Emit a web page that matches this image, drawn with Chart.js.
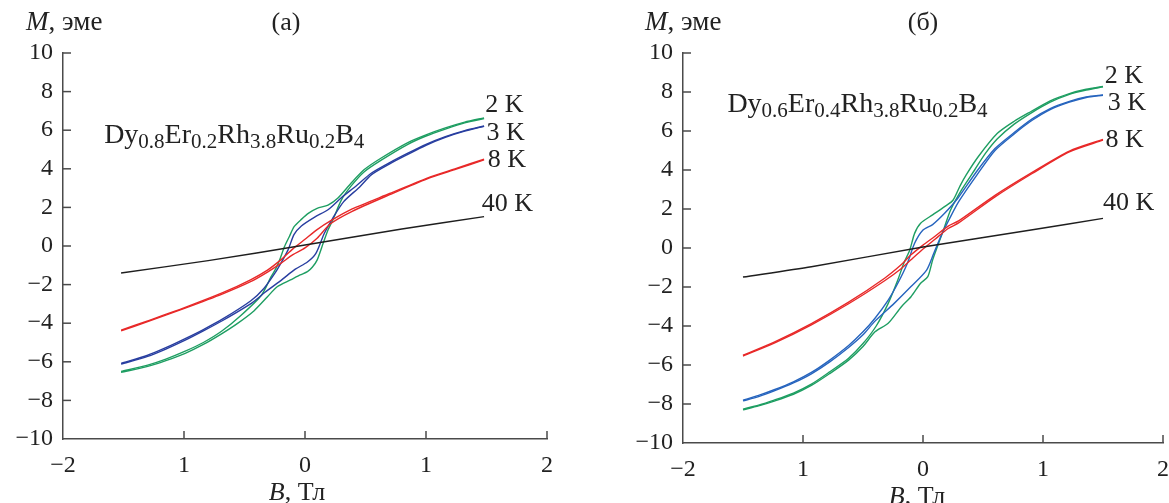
<!DOCTYPE html>
<html lang="ru">

<head>
    <meta charset="UTF-8">
    <title>Петли намагничивания M(B)</title>
    <script src="https://cdn.jsdelivr.net/npm/chart.js"></script>
    <style>
        html, body { margin: 0; padding: 0; overflow: hidden; background: #fff; }
        body { width: 1169px; height: 503px; position: relative; }
        canvas { position: absolute; top: 0; }
        #chartA { left: 0; }
        #chartB { left: 590px; }
    </style>
</head>

<body>
    <canvas id="chartA" width="590" height="503"></canvas>
    <canvas id="chartB" width="610" height="503"></canvas>
    <script>
        // подписи осей
        const xTickText = ['−2', '1', '0', '1', '2'];
        const yMin = -10, yMax = 10, yStep = 2;

        // ===== (а) Dy0.8Er0.2Rh3.8Ru0.2B4, точки [B, M] =====
        const a2K_down = [[1.48, 6.64], [1.32, 6.42], [1.16, 6.12], [1.00, 5.76], [0.85, 5.36], [0.63, 4.56], [0.49, 3.96], [0.38, 3.25], [0.27, 2.47], [0.19, 2.12], [0.10, 1.95], [0.03, 1.70], [-0.03, 1.38], [-0.09, 1.00], [-0.13, 0.48], [-0.17, -0.04], [-0.21, -0.73], [-0.24, -1.16], [-0.28, -1.59], [-0.36, -2.55], [-0.53, -3.60], [-0.69, -4.42], [-0.84, -5.00], [-0.99, -5.45], [-1.15, -5.86], [-1.30, -6.17], [-1.52, -6.50]];
        const a2K_up = [[-1.52, -6.55], [-1.30, -6.24], [-1.15, -5.94], [-0.99, -5.56], [-0.84, -5.10], [-0.69, -4.55], [-0.56, -4.02], [-0.42, -3.35], [-0.31, -2.63], [-0.23, -2.11], [-0.12, -1.76], [-0.04, -1.50], [0.02, -1.33], [0.06, -1.10], [0.10, -0.73], [0.15, 0.14], [0.19, 0.83], [0.23, 1.35], [0.30, 2.38], [0.38, 3.10], [0.49, 3.85], [0.63, 4.45], [0.85, 5.27], [1.00, 5.70], [1.16, 6.06], [1.32, 6.38], [1.48, 6.60]];
        const a3K_down = [[1.48, 6.22], [1.32, 5.98], [1.16, 5.67], [1.00, 5.27], [0.85, 4.81], [0.70, 4.32], [0.55, 3.78], [0.42, 3.10], [0.30, 2.50], [0.19, 1.88], [0.08, 1.50], [-0.03, 1.04], [-0.09, 0.60], [-0.14, -0.20], [-0.20, -0.90], [-0.25, -1.42], [-0.34, -2.20], [-0.45, -2.85], [-0.68, -3.78], [-0.84, -4.33], [-0.99, -4.80], [-1.15, -5.27], [-1.30, -5.66], [-1.52, -6.08]];
        const a3K_up = [[-1.52, -6.12], [-1.30, -5.72], [-1.15, -5.34], [-0.99, -4.88], [-0.84, -4.40], [-0.68, -3.86], [-0.45, -3.00], [-0.33, -2.40], [-0.19, -1.74], [-0.08, -1.20], [0.02, -0.83], [0.09, -0.38], [0.16, 0.66], [0.23, 1.45], [0.32, 2.30], [0.45, 3.05], [0.55, 3.70], [0.70, 4.26], [0.85, 4.75], [1.00, 5.22], [1.16, 5.63], [1.32, 5.95], [1.48, 6.20]];
        const a8K_down = [[1.48, 4.50], [1.25, 4.02], [1.01, 3.52], [0.70, 2.72], [0.39, 1.92], [0.21, 1.30], [0.10, 0.85], [0.00, 0.35], [-0.10, -0.15], [-0.20, -0.72], [-0.31, -1.25], [-0.45, -1.75], [-0.68, -2.42], [-0.99, -3.18], [-1.30, -3.88], [-1.52, -4.36]];
        const a8K_up = [[-1.52, -4.40], [-1.30, -3.92], [-0.99, -3.22], [-0.68, -2.48], [-0.45, -1.85], [-0.31, -1.35], [-0.20, -0.90], [-0.10, -0.45], [0.00, -0.10], [0.10, 0.40], [0.21, 1.15], [0.39, 1.80], [0.70, 2.66], [1.01, 3.48], [1.25, 3.98], [1.48, 4.46]];
        const a40K = [[-1.52, -1.40], [-0.80, -0.76], [0.00, 0.05], [0.80, 0.88], [1.48, 1.52]];

        // ===== (б) Dy0.6Er0.4Rh3.8Ru0.2B4 =====
        const b2K_down = [[1.50, 8.28], [1.36, 8.14], [1.22, 7.92], [1.06, 7.55], [0.90, 7.00], [0.76, 6.50], [0.62, 5.88], [0.46, 4.68], [0.36, 3.75], [0.31, 3.20], [0.25, 2.45], [0.18, 2.12], [0.08, 1.70], [-0.02, 1.27], [-0.07, 0.75], [-0.11, -0.10], [-0.16, -0.78], [-0.21, -1.64], [-0.29, -2.84], [-0.39, -4.00], [-0.50, -4.90], [-0.62, -5.65], [-0.78, -6.36], [-0.93, -6.98], [-1.08, -7.44], [-1.24, -7.80], [-1.37, -8.06], [-1.50, -8.26]];
        const b2K_up = [[-1.50, -8.30], [-1.37, -8.10], [-1.24, -7.85], [-1.08, -7.50], [-0.93, -7.05], [-0.78, -6.45], [-0.62, -5.75], [-0.50, -5.05], [-0.40, -4.30], [-0.29, -3.86], [-0.18, -3.01], [-0.10, -2.50], [-0.02, -1.81], [0.04, -1.47], [0.08, -0.62], [0.12, 0.07], [0.18, 1.09], [0.23, 1.95], [0.32, 2.97], [0.43, 4.00], [0.52, 4.85], [0.62, 5.60], [0.76, 6.35], [0.90, 6.92], [1.06, 7.48], [1.22, 7.88], [1.36, 8.10], [1.50, 8.26]];
        const b3K_down = [[1.50, 7.85], [1.36, 7.75], [1.22, 7.52], [1.06, 7.15], [0.91, 6.62], [0.76, 5.92], [0.60, 5.10], [0.45, 3.95], [0.29, 2.55], [0.18, 1.78], [0.08, 1.20], [0.00, 0.92], [-0.07, 0.24], [-0.13, -0.78], [-0.21, -1.81], [-0.29, -2.67], [-0.40, -3.60], [-0.50, -4.30], [-0.62, -5.00], [-0.78, -5.76], [-0.93, -6.38], [-1.08, -6.86], [-1.24, -7.27], [-1.37, -7.56], [-1.50, -7.80]];
        const b3K_up = [[-1.50, -7.84], [-1.37, -7.62], [-1.24, -7.33], [-1.08, -6.92], [-0.93, -6.45], [-0.78, -5.85], [-0.62, -5.10], [-0.50, -4.45], [-0.40, -3.75], [-0.24, -2.84], [-0.10, -1.98], [0.03, -1.13], [0.09, -0.27], [0.16, 0.75], [0.23, 1.61], [0.30, 2.40], [0.45, 3.75], [0.60, 5.00], [0.76, 5.85], [0.91, 6.55], [1.06, 7.10], [1.22, 7.48], [1.36, 7.72], [1.50, 7.83]];
        const b8K_down = [[1.50, 5.57], [1.22, 4.97], [0.91, 3.88], [0.60, 2.70], [0.30, 1.40], [0.21, 1.12], [0.10, 0.60], [0.00, 0.15], [-0.10, -0.35], [-0.18, -0.85], [-0.32, -1.55], [-0.62, -2.78], [-0.93, -3.88], [-1.24, -4.83], [-1.50, -5.50]];
        const b8K_up = [[-1.50, -5.54], [-1.24, -4.88], [-0.93, -3.94], [-0.62, -2.86], [-0.32, -1.68], [-0.18, -1.05], [-0.10, -0.60], [0.00, -0.05], [0.10, 0.45], [0.21, 1.00], [0.30, 1.30], [0.60, 2.62], [0.91, 3.82], [1.22, 4.93], [1.50, 5.53]];
        const b40K = [[-1.50, -1.49], [-0.93, -0.96], [0.00, 0.05], [0.90, 0.92], [1.50, 1.52]];

        // подписи температур: [текст, B, M]
        const aTempLabels = [['2 K', 1.49, 7.31], ['3 K', 1.50, 5.84], ['8 K', 1.51, 4.46], ['40 K', 1.46, 2.18]];
        const bTempLabels = [['2 K', 1.515, 8.82], ['3 K', 1.54, 7.42], ['8 K', 1.52, 5.54], ['40 K', 1.50, 2.29]];
        const aFormula = ['Dy', '0.8', 'Er', '0.2', 'Rh', '3.8', 'Ru', '0.2', 'B', '4'];
        const bFormula = ['Dy', '0.6', 'Er', '0.4', 'Rh', '3.8', 'Ru', '0.2', 'B', '4'];

        const GREEN = 'rgb(30, 158, 98)';
        const RED = 'rgb(232, 40, 40)';
        const BLACK = 'rgb(30, 30, 30)';
        const AXIS = '#4a4a4a';
        const TEXT = '#222';
        const SERIF = '"Liberation Serif", "Times New Roman", serif';

        function pts(arr) {
            return arr.map(p => ({ x: p[0], y: p[1] }));
        }
        function line(arr, color) {
            return {
                data: pts(arr), showLine: true, borderColor: color, borderWidth: 1.4,
                pointRadius: 0, tension: 0.25, fill: false
            };
        }
        function minus(v) {
            return v < 0 ? '−' + Math.abs(v) : String(v);
        }

        // рисуем текст из кусков с разным шрифтом
        function drawRuns(ctx, runs, x, y) {
            runs.forEach(r => {
                ctx.font = r[1];
                ctx.fillText(r[0], x, y + (r[2] || 0));
                x += ctx.measureText(r[0]).width;
            });
        }

        function textPlugin(p) {
            return {
                id: 'panelText',
                afterDraw(chart) {
                    const ctx = chart.ctx;
                    const xs = chart.scales.x, ys = chart.scales.y, area = chart.chartArea;
                    ctx.save();
                    // засечки внутрь
                    ctx.strokeStyle = AXIS;
                    ctx.lineWidth = 1.5;
                    xs.ticks.forEach(t => {
                        if (t.value === xs.min) return;
                        const px = xs.getPixelForValue(t.value);
                        ctx.beginPath();
                        ctx.moveTo(px, area.bottom);
                        ctx.lineTo(px, area.bottom - 8);
                        ctx.stroke();
                    });
                    ys.ticks.forEach(t => {
                        if (t.value === ys.min) return;
                        const py = ys.getPixelForValue(t.value);
                        ctx.beginPath();
                        ctx.moveTo(area.left, py);
                        ctx.lineTo(area.left + 8, py);
                        ctx.stroke();
                    });

                    ctx.fillStyle = TEXT;
                    ctx.textBaseline = 'middle';
                    ctx.textAlign = 'left';
                    drawRuns(ctx, [['M', 'italic 27px ' + SERIF], [', эме', '27px ' + SERIF]], p.mX, 23);
                    ctx.textAlign = 'center';
                    ctx.font = '26px ' + SERIF;
                    ctx.fillText(p.letter, p.letterX, 23);

                    // подпись оси B
                    ctx.textAlign = 'left';
                    ctx.font = 'italic 26px ' + SERIF;
                    const w = ctx.measureText('B').width;
                    ctx.font = '26px ' + SERIF;
                    const w2 = ctx.measureText(', Тл').width;
                    drawRuns(ctx, [['B', 'italic 26px ' + SERIF], [', Тл', '26px ' + SERIF]], p.bX - (w + w2) / 2, p.bY);

                    // температуры
                    ctx.font = '26px ' + SERIF;
                    p.temps.forEach(t => {
                        ctx.fillText(t[0], xs.getPixelForValue(t[1]), ys.getPixelForValue(t[2]));
                    });

                    // формула состава
                    ctx.textBaseline = 'alphabetic';
                    const runs = p.formula.map((s, i) => i % 2 ? [s, '21px ' + SERIF, 5] : [s, '28px ' + SERIF]);
                    drawRuns(ctx, runs, xs.getPixelForValue(p.fX), ys.getPixelForValue(p.fY));
                    ctx.restore();
                }
            };
        }

        function makePanel(id, sets, blue, area, p) {
            const canvas = document.getElementById(id);
            const W = canvas.width, H = canvas.height;
            return new Chart(canvas, {
                type: 'scatter',
                data: {
                    datasets: [
                        line(sets[6], BLACK),
                        line(sets[4], RED), line(sets[5], RED),
                        line(sets[2], blue), line(sets[3], blue),
                        line(sets[0], GREEN), line(sets[1], GREEN)
                    ]
                },
                options: {
                    responsive: false,
                    animation: false,
                    layout: { padding: { top: area.top, right: W - area.right, left: 0, bottom: 0 } },
                    plugins: { legend: { display: false }, tooltip: { enabled: false } },
                    scales: {
                        x: {
                            type: 'linear', min: -2, max: 2,
                            grid: { display: false, drawTicks: false },
                            border: { display: true, color: AXIS, width: 1.5 },
                            ticks: {
                                stepSize: 1, padding: 12, color: TEXT,
                                font: { family: SERIF, size: 24 },
                                callback: v => xTickText[v + 2]
                            },
                            afterFit: s => { s.height = H - area.bottom; }
                        },
                        y: {
                            type: 'linear', min: yMin, max: yMax,
                            grid: { display: false, drawTicks: false },
                            border: { display: true, color: AXIS, width: 1.5 },
                            ticks: {
                                stepSize: yStep, padding: 10, color: TEXT,
                                font: { family: SERIF, size: 24 },
                                callback: v => minus(v)
                            },
                            afterFit: s => { s.width = area.left; }
                        }
                    }
                },
                plugins: [textPlugin(p)]
            });
        }

        makePanel('chartA',
            [a2K_down, a2K_up, a3K_down, a3K_up, a8K_down, a8K_up, a40K],
            'rgb(40, 62, 160)',
            { left: 63, right: 547, top: 53, bottom: 439 },
            { mX: 26, letter: '(а)', letterX: 286, bX: 297, bY: 493, temps: aTempLabels, formula: aFormula, fX: -1.66, fY: 5.34 });

        makePanel('chartB',
            [b2K_down, b2K_up, b3K_down, b3K_up, b8K_down, b8K_up, b40K],
            'rgb(38, 100, 190)',
            { left: 93, right: 573, top: 53, bottom: 443 },
            { mX: 55, letter: '(б)', letterX: 333, bX: 327, bY: 497, temps: bTempLabels, formula: bFormula, fX: -1.63, fY: 6.99 });
    </script>
</body>

</html>
